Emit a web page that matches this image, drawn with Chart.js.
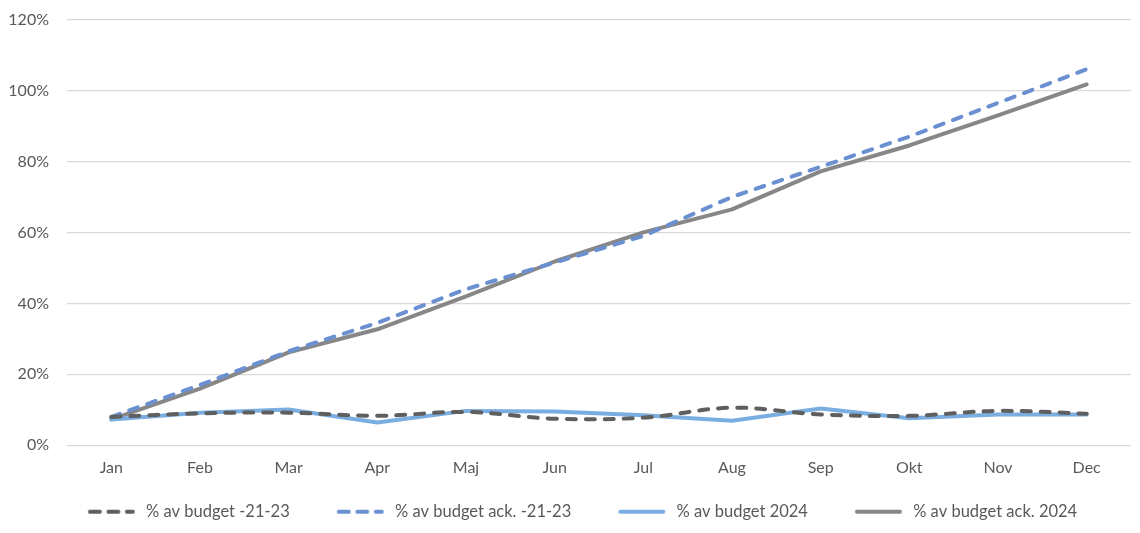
<!DOCTYPE html>
<html>
<head>
<meta charset="utf-8">
<script src="https://cdn.jsdelivr.net/npm/chart.js@4.4.1/dist/chart.umd.min.js"></script>
<style>
  html, body { margin: 0; padding: 0; background: #fff; }
  #wrap { width: 1140px; height: 533px; }
</style>
</head>
<body>
<div id="wrap"><canvas id="grafik" width="1140" height="533"></canvas></div>
<script>
// Manader
var manader = ["Jan", "Feb", "Mar", "Apr", "Maj", "Jun", "Jul", "Aug", "Sep", "Okt", "Nov", "Dec"];

// Serier (procent av budget)
var budget2123 = [8.0, 9.0, 9.2, 8.3, 9.4, 7.5, 7.8, 10.6, 8.7, 8.3, 9.7, 8.9];
var budgetAck2123 = [8.0, 17.0, 26.5, 34.5, 44.0, 51.5, 59.0, 70.0, 78.5, 87.0, 96.5, 106.0];
var budget2024 = [7.3, 9.2, 10.1, 6.4, 9.7, 9.5, 8.5, 6.9, 10.4, 7.6, 8.7, 8.7];
var budgetAck2024 = [7.3, 16.0, 26.2, 32.7, 42.0, 51.8, 60.0, 66.5, 77.2, 84.5, 93.0, 101.7];

var yTicks = [0, 20, 40, 60, 80, 100, 120];

var font = "Lato, 'Open Sans', sans-serif";
var textColor = "#595959";

// Legendens linjeprov ritas i en liten canvas (luft till vanster)
var provVanster = 34, provLinje = 47, provHoger = 3;
function linjeProv(farg, streckad) {
    var c = document.createElement("canvas");
    c.width = provVanster + provLinje + provHoger;
    c.height = 8;
    var g = c.getContext("2d");
    g.strokeStyle = farg;
    g.lineWidth = 4;
    g.lineCap = "round";
    if (streckad) g.setLineDash([10, 8.5]);
    g.beginPath();
    g.moveTo(provVanster + 2, 4);
    g.lineTo(provVanster + provLinje - 2, 4);
    g.stroke();
    return c;
}

function serie(namn, data, farg, streckad, spann) {
    return {
        label: namn,
        data: data,
        borderColor: farg,
        backgroundColor: farg,
        borderWidth: 4,
        borderDash: streckad ? [9, 10] : [],
        borderCapStyle: "round",
        borderJoinStyle: "round",
        pointRadius: 0,
        pointHoverRadius: 0,
        tension: spann,
        pointStyle: linjeProv(farg, streckad),
        fill: false
    };
}

var ctx = document.getElementById("grafik");
window.myLine = new Chart(ctx, {
    type: "line",
    data: {
        labels: manader,
        datasets: [
            serie("% av budget -21-23", budget2123, "#5f5f5f", true, 0.35),
            serie("% av budget ack. -21-23", budgetAck2123, "#6a90d2", true, 0),
            serie("% av budget 2024", budget2024, "#7aaee0", false, 0),
            serie("% av budget ack. 2024", budgetAck2024, "#878787", false, 0)
        ]
    },
    options: {
        responsive: false,
        animation: false,
        layout: { padding: { top: 19.5, right: 9, bottom: 3, left: 0 } },
        plugins: {
            legend: {
                position: "bottom",
                labels: {
                    usePointStyle: true,
                    pointStyleWidth: provVanster + provLinje + provHoger,
                    boxWidth: provVanster + provLinje + provHoger,
                    boxHeight: 8,
                    padding: 13,
                    color: textColor,
                    font: { family: font, size: 16.5 }
                }
            },
            tooltip: { enabled: false }
        },
        scales: {
            x: {
                offset: true,
                grid: { display: false, drawTicks: false },
                border: { display: false },
                ticks: {
                    color: textColor,
                    font: { family: font, size: 16 },
                    padding: 13,
                    maxRotation: 0
                }
            },
            y: {
                min: 0,
                max: 120,
                afterBuildTicks: function (scale) {
                    scale.ticks = yTicks.map(function (v) { return { value: v }; });
                },
                afterFit: function (scale) {
                    scale.width = 67;
                    scale.paddingTop = 0;
                    scale.paddingBottom = 0;
                },
                grid: { color: "#d9d9d9", lineWidth: 1.3, drawTicks: false },
                border: { display: false },
                ticks: {
                    color: textColor,
                    font: { family: font, size: 16 },
                    padding: 18,
                    callback: function (v) { return v + "%"; }
                }
            }
        }
    }
});
</script>
</body>
</html>
